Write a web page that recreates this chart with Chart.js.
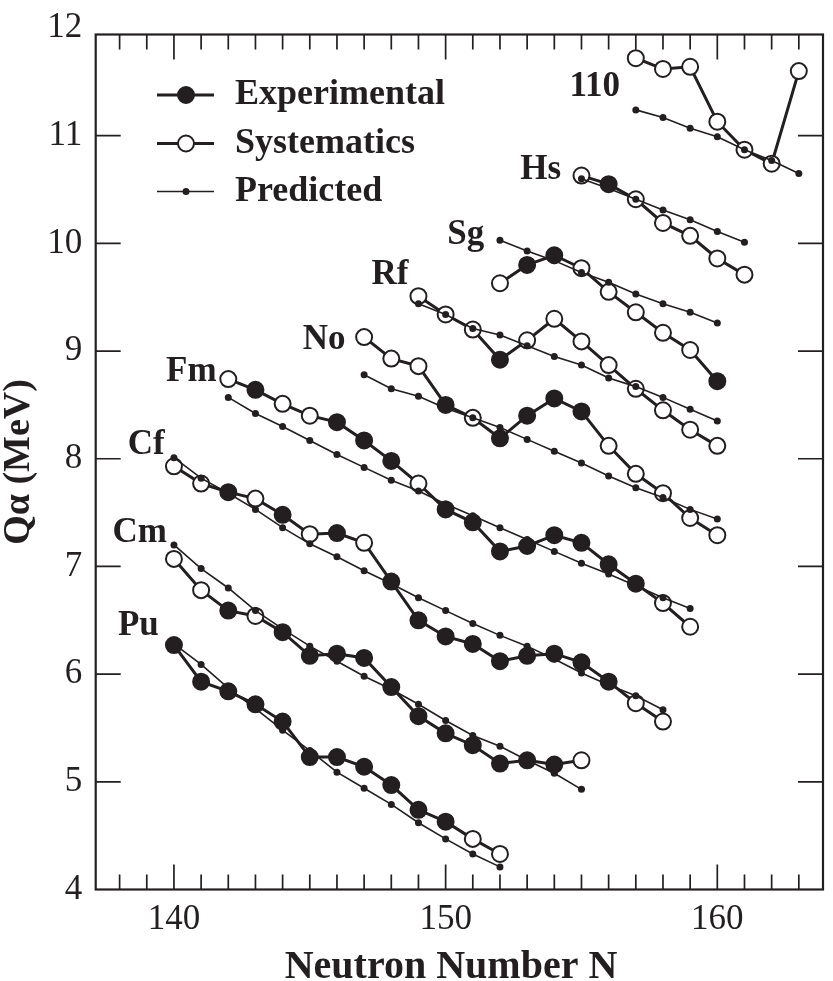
<!DOCTYPE html>
<html>
<head>
<meta charset="utf-8">
<title>Q-alpha systematics</title>
<script src="https://cdn.jsdelivr.net/npm/chart.js@4.4.0/dist/chart.umd.min.js"></script>
<style>
  html, body { margin: 0; padding: 0; background: #fff; }
  canvas { display: block; }
</style>
</head>
<body>
<canvas id="qalpha" width="833" height="981"></canvas>
<script>
// Q-alpha (MeV), per element.
// *Q = experimental + systematics (thick line), *Exp = 1 for experimental point, *Pred = predicted (thin line)
const puN = [140, 141, 142, 143, 144, 145, 146, 147, 148, 149, 150, 151, 152];
const puQ = [6.27, 5.93, 5.84, 5.72, 5.56, 5.23, 5.23, 5.14, 4.97, 4.74, 4.63, 4.47, 4.33];
const puExp = [1, 1, 1, 1, 1, 1, 1, 1, 1, 1, 1, 0, 0];
const puPred = [6.28, 6.09, 5.87, 5.68, 5.48, 5.29, 5.09, 4.94, 4.79, 4.62, 4.47, 4.33, 4.21];

const cmN = [140, 141, 142, 143, 144, 145, 146, 147, 148, 149, 150, 151, 152, 153, 154, 155];
const cmQ = [7.07, 6.78, 6.59, 6.54, 6.39, 6.17, 6.19, 6.15, 5.88, 5.61, 5.45, 5.34, 5.17, 5.20, 5.16, 5.20];
const cmExp = [0, 0, 1, 0, 1, 1, 1, 1, 1, 1, 1, 1, 1, 1, 1, 0];
const cmPred = [7.20, 6.98, 6.80, 6.59, 6.42, 6.26, 6.12, 5.98, 5.86, 5.72, 5.57, 5.43, 5.33, 5.20, 5.08, 4.93];

const cfN = [140, 141, 142, 143, 144, 145, 146, 147, 148, 149, 150, 151, 152, 153, 154, 155, 156, 157, 158];
const cfQ = [7.93, 7.77, 7.69, 7.63, 7.48, 7.30, 7.31, 7.22, 6.86, 6.50, 6.35, 6.28, 6.12, 6.17, 6.19, 6.11, 5.93, 5.73, 5.56];
const cfExp = [0, 0, 1, 0, 1, 0, 1, 0, 1, 1, 1, 1, 1, 1, 1, 1, 1, 0, 0];
const cfPred = [8.01, 7.82, 7.68, 7.53, 7.36, 7.21, 7.09, 6.96, 6.84, 6.71, 6.59, 6.47, 6.36, 6.26, 6.14, 6.01, 5.90, 5.80, 5.67];

const fmN = [142, 143, 144, 145, 146, 147, 148, 149, 150, 151, 152, 153, 154, 155, 156, 157, 158, 159];
const fmQ = [8.74, 8.64, 8.51, 8.40, 8.34, 8.17, 7.98, 7.77, 7.53, 7.41, 7.14, 7.19, 7.29, 7.22, 7.02, 6.84, 6.66, 6.44];
const fmExp = [0, 1, 0, 0, 1, 1, 1, 0, 1, 1, 1, 1, 1, 1, 1, 1, 0, 0];
const fmPred = [8.57, 8.42, 8.30, 8.17, 8.04, 7.92, 7.80, 7.70, 7.58, 7.47, 7.36, 7.25, 7.14, 7.03, 6.93, 6.82, 6.71, 6.61];

const noN = [147, 148, 149, 150, 151, 152, 153, 154, 155, 156, 157, 158, 159, 160];
const noQ = [9.13, 8.93, 8.86, 8.50, 8.38, 8.19, 8.40, 8.56, 8.44, 8.12, 7.86, 7.68, 7.45, 7.29];
const noExp = [0, 0, 0, 1, 0, 1, 1, 1, 1, 0, 0, 0, 0, 0];
const noPred = [8.78, 8.65, 8.58, 8.47, 8.38, 8.29, 8.18, 8.07, 7.96, 7.84, 7.73, 7.64, 7.53, 7.44];

const rfN = [149, 150, 151, 152, 153, 154, 155, 156, 157, 158, 159, 160];
const rfQ = [9.51, 9.34, 9.20, 8.92, 9.10, 9.30, 9.09, 8.87, 8.65, 8.45, 8.27, 8.12];
const rfExp = [0, 0, 0, 1, 0, 0, 0, 0, 0, 0, 0, 0];
const rfPred = [9.44, 9.34, 9.21, 9.15, 9.05, 8.95, 8.87, 8.75, 8.67, 8.57, 8.46, 8.35];

const sgN = [152, 153, 154, 155, 156, 157, 158, 159, 160];
const sgQ = [9.63, 9.80, 9.89, 9.77, 9.55, 9.36, 9.17, 9.01, 8.72];
const sgExp = [0, 1, 1, 0, 0, 0, 0, 0, 1];
const sgPred = [10.03, 9.93, 9.84, 9.73, 9.64, 9.53, 9.44, 9.36, 9.26];

const hsN = [155, 156, 157, 158, 159, 160, 161];
const hsQ = [10.63, 10.55, 10.41, 10.19, 10.07, 9.86, 9.71];
const hsExp = [0, 1, 0, 0, 0, 0, 0];
const hsPred = [10.60, 10.51, 10.41, 10.31, 10.22, 10.11, 10.01];

const z110N = [157, 158, 159, 160, 161, 162, 163];
const z110Q = [11.72, 11.62, 11.64, 11.13, 10.87, 10.74, 11.60];
const z110Exp = [0, 0, 0, 0, 0, 0, 0];
const z110Pred = [11.24, 11.17, 11.07, 10.99, 10.87, 10.77, 10.65];

// element names and where they sit (data coords)
const labelText = ['Pu', 'Cm', 'Cf', 'Fm', 'No', 'Rf', 'Sg', 'Hs', '110'];
const labelN = [138.69, 138.74, 138.98, 140.64, 145.53, 147.95, 150.74, 153.50, 155.49];
const labelQ = [6.45, 7.31, 8.13, 8.81, 9.10, 9.71, 10.08, 10.68, 11.45];

// axis ticks
const xTickValues = [140, 150, 160];
const xMinorTicks = [138, 139, 140, 141, 142, 143, 144, 145, 146, 147, 148, 149, 150,
  151, 152, 153, 154, 155, 156, 157, 158, 159, 160, 161, 162, 163];
const yTickValues = [4, 5, 6, 7, 8, 9, 10, 11, 12];

const legendLabels = ['Experimental', 'Systematics', 'Predicted'];
const xTitle = 'Neutron Number N';

const INK = '#231f20';
const SERIF = "'Liberation Serif', 'Times New Roman', serif";

const elements = [
  { n: puN, q: puQ, exp: puExp, pred: puPred },
  { n: cmN, q: cmQ, exp: cmExp, pred: cmPred },
  { n: cfN, q: cfQ, exp: cfExp, pred: cfPred },
  { n: fmN, q: fmQ, exp: fmExp, pred: fmPred },
  { n: noN, q: noQ, exp: noExp, pred: noPred },
  { n: rfN, q: rfQ, exp: rfExp, pred: rfPred },
  { n: sgN, q: sgQ, exp: sgExp, pred: sgPred },
  { n: hsN, q: hsQ, exp: hsExp, pred: hsPred },
  { n: z110N, q: z110Q, exp: z110Exp, pred: z110Pred }
];

function toPoints(ns, vals) {
  return ns.map((n, i) => ({ x: n, y: vals[i] }));
}

const datasets = [];
elements.forEach(el => {
  // thick line: filled = experimental, open = systematics
  datasets.push({
    data: toPoints(el.n, el.q),
    borderColor: INK,
    borderWidth: 3,
    pointRadius: 8,
    pointBorderWidth: 2,
    pointBorderColor: INK,
    pointBackgroundColor: el.exp.map(e => e ? INK : '#ffffff'),
    order: 1
  });
  // thin predicted line, drawn on top so its dots show inside open circles
  datasets.push({
    data: toPoints(el.n, el.pred),
    borderColor: INK,
    borderWidth: 1.6,
    pointRadius: 3.5,
    pointBorderWidth: 0,
    pointBackgroundColor: INK,
    order: 0
  });
});

// frame and inward tick marks on all four sides
const framePlugin = {
  id: 'frame',
  beforeDatasetsDraw(chart) {
    const { ctx, chartArea: a, scales: { x, y } } = chart;
    ctx.save();
    ctx.strokeStyle = INK;
    ctx.lineWidth = 1.7;
    ctx.beginPath();
    xMinorTicks.forEach(v => {
      const px = x.getPixelForValue(v);
      const len = xTickValues.includes(v) ? 25 : 15;
      ctx.moveTo(px, a.bottom);
      ctx.lineTo(px, a.bottom - len);
      ctx.moveTo(px, a.top);
      ctx.lineTo(px, a.top + len);
    });
    yTickValues.forEach(v => {
      if (v <= y.min || v >= y.max) return;
      const py = y.getPixelForValue(v);
      ctx.moveTo(a.left, py);
      ctx.lineTo(a.left + 25, py);
      ctx.moveTo(a.right, py);
      ctx.lineTo(a.right - 25, py);
    });
    ctx.stroke();
    ctx.lineWidth = 2.2;
    ctx.strokeRect(a.left, a.top, a.right - a.left, a.bottom - a.top);

    // x title sits a bit left of the axis centre in the original
    ctx.fillStyle = INK;
    ctx.font = 'bold 40px ' + SERIF;
    ctx.textAlign = 'center';
    ctx.textBaseline = 'middle';
    ctx.fillText(xTitle, 451, 968);
    ctx.restore();
  }
};

// element names next to each chain
const elementLabels = {
  id: 'elementLabels',
  afterDatasetsDraw(chart) {
    const { ctx, scales: { x, y } } = chart;
    ctx.save();
    ctx.fillStyle = INK;
    ctx.font = 'bold 35px ' + SERIF;
    ctx.textAlign = 'center';
    ctx.textBaseline = 'middle';
    labelText.forEach((t, i) => {
      ctx.fillText(t, x.getPixelForValue(labelN[i]), y.getPixelForValue(labelQ[i]));
    });
    ctx.restore();
  }
};

// legend in the upper left, line + marker + bold text
const legendPlugin = {
  id: 'inlineLegend',
  afterDraw(chart) {
    const { ctx } = chart;
    const rowY = [95, 143.5, 191.5];
    ctx.save();
    ctx.strokeStyle = INK;
    ctx.fillStyle = INK;
    legendLabels.forEach((label, i) => {
      const yy = rowY[i];
      ctx.beginPath();
      ctx.lineWidth = i < 2 ? 3 : 1.6;
      ctx.moveTo(157, yy);
      ctx.lineTo(214, yy);
      ctx.stroke();
      ctx.beginPath();
      if (i < 2) {
        ctx.arc(186, yy, 8, 0, Math.PI * 2);
        ctx.fillStyle = i === 0 ? INK : '#ffffff';
        ctx.fill();
        ctx.lineWidth = 2;
        ctx.stroke();
      } else {
        ctx.arc(186, yy, 3.5, 0, Math.PI * 2);
        ctx.fillStyle = INK;
        ctx.fill();
      }
      ctx.fillStyle = INK;
      ctx.font = 'bold 36px ' + SERIF;
      ctx.textAlign = 'left';
      ctx.textBaseline = 'middle';
      ctx.fillText(label, 235, yy);
    });
    ctx.restore();
  }
};

new Chart(document.getElementById('qalpha'), {
  type: 'line',
  data: { datasets },
  options: {
    responsive: false,
    devicePixelRatio: 1,
    animation: false,
    layout: { padding: { left: 0, top: 22.7, right: 3.7, bottom: 0 } },
    elements: { line: { tension: 0 } },
    plugins: { legend: { display: false }, tooltip: { enabled: false } },
    scales: {
      x: {
        type: 'linear',
        min: 137.12,
        max: 163.89,
        afterBuildTicks: s => { s.ticks = xTickValues.map(v => ({ value: v })); },
        afterFit: s => { s.height = 91.5; },
        grid: { display: false, drawTicks: false },
        border: { display: false },
        ticks: {
          autoSkip: false, maxRotation: 0, padding: 9, color: INK,
          font: { family: SERIF, size: 35 }
        },
        title: { display: false }
      },
      y: {
        type: 'linear',
        min: 4,
        max: 11.94,
        afterBuildTicks: s => { s.ticks = yTickValues.map(v => ({ value: v })); },
        afterFit: s => { s.width = 95.7; },
        grid: { display: false, drawTicks: false },
        border: { display: false },
        ticks: {
          autoSkip: false, padding: 13.5, color: INK,
          font: { family: SERIF, size: 35 }
        },
        title: {
          display: true, text: 'Qα (MeV)', color: INK,
          font: { family: SERIF, size: 38, weight: 'bold', lineHeight: 1 },
          padding: { top: 0, bottom: 0 }
        }
      }
    }
  },
  plugins: [framePlugin, elementLabels, legendPlugin]
});
</script>
</body>
</html>
